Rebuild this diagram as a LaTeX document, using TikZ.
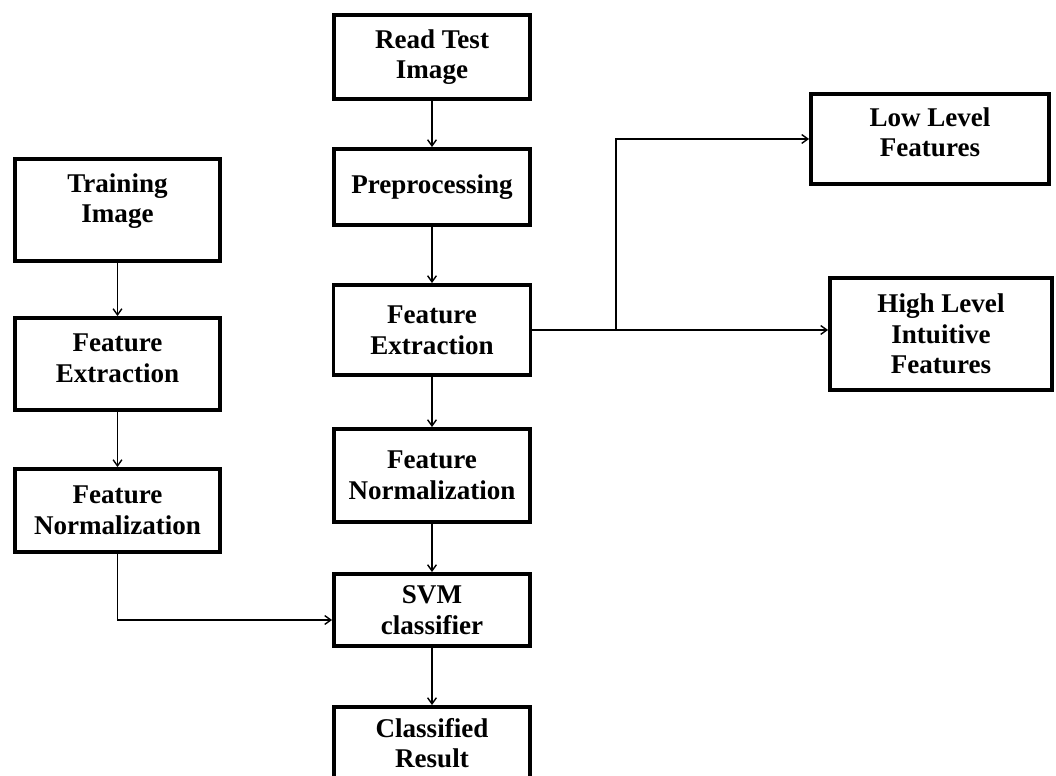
\documentclass[tikz,border=0pt]{standalone}
\usepackage{fontspec}
\setmainfont{Liberation Serif}
\usetikzlibrary{arrows.meta,calc}
\tikzset{
  box/.style={draw, line width=2.2pt, align=center, inner sep=0pt,
    font=\fontsize{15.4}{17.5}\selectfont\bfseries},
  conn/.style={line width=0.8pt, -{Straight Barb[length=3.5pt,width=5pt]}},
  plain/.style={line width=0.8pt}
}
\newcommand{\dn}[1]{\rule[-#1]{0pt}{0pt}}
\begin{document}
\begin{tikzpicture}[x=0.02cm,y=-0.02cm]
\path[use as bounding box] (0,0) rectangle (1056,776);
\clip (0,0) rectangle (1056,776);
% centre column
\node[box, minimum width=3.92cm, minimum height=1.68cm] (read) at (432,57) {Read Test\\Image};
\node[box, minimum width=3.92cm, minimum height=1.52cm] (prep) at (432,187) {Preprocessing};
\node[box, minimum width=3.94cm, minimum height=1.80cm] (fe) at (432,330) {Feature\\Extraction};
\node[box, minimum width=3.92cm, minimum height=1.86cm] (fn) at (432,475.5) {Feature\\Normalization};
\node[box, minimum width=3.92cm, minimum height=1.44cm] (svm) at (432,610) {SVM\\classifier};
\node[box, minimum width=3.92cm, minimum height=1.56cm] (cls) at (432,746) {Classified\\Result\dn{0.12cm}};
% left column
\node[box, minimum width=4.10cm, minimum height=2.04cm] (train) at (117.5,210) {Training\\Image\dn{0.48cm}};
\node[box, minimum width=4.10cm, minimum height=1.84cm] (fe2) at (117.5,364) {Feature\\Extraction\dn{0.24cm}};
\node[box, minimum width=4.10cm, minimum height=1.66cm] (fn2) at (117.5,510.5) {Feature\\Normalization};
% right column
\node[box, minimum width=4.76cm, minimum height=1.80cm] (low) at (930,139) {Low Level\\Features\dn{0.28cm}};
\node[box, minimum width=4.44cm, minimum height=2.24cm] (high) at (941,334) {High Level\\Intuitive\\Features};
% connectors
\draw[conn] (read) -- (prep);
\draw[conn] (prep) -- (fe);
\draw[conn] (fe) -- (fn);
\draw[conn] (fn) -- (svm);
\draw[conn] (svm) -- (cls);
\draw[conn] (train) -- (fe2);
\draw[conn] (fe2) -- (fn2);
\draw[conn] (fn2.south) |- ([yshift=-0.2cm]svm.west);
\coordinate (j) at (616,330);
\draw[conn] (fe.east) -- (fe.east -| high.west);
\draw[conn] (j) |- (low.west);
\end{tikzpicture}
\end{document}
